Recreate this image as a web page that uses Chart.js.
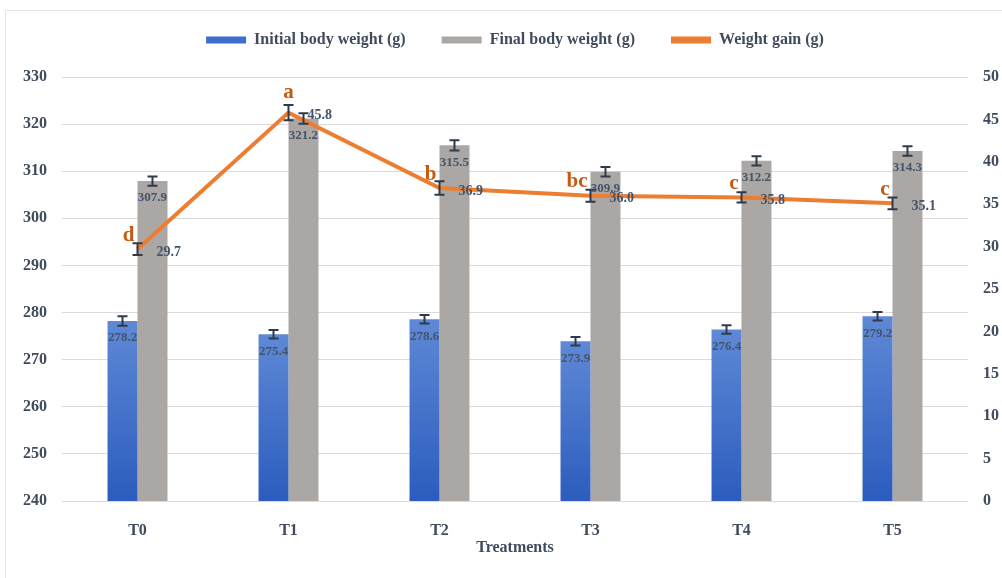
<!DOCTYPE html>
<html>
<head>
<meta charset="utf-8">
<script src="https://cdn.jsdelivr.net/npm/chart.js@4.4.0/dist/chart.umd.min.js"></script>
<style>
    html, body { margin: 0; padding: 0; background: #fff; }
    #wrap { position: relative; width: 1002px; height: 578px; overflow: hidden; }
    #marco { position: absolute; left: 5px; top: 10px; width: 1010px; height: 600px; border: 1px solid #e4e4e4; }
    canvas { position: absolute; left: 0; top: 0; }
</style>
</head>
<body>
<div id="wrap">
    <div id="marco"></div>
    <canvas id="myChart" width="1002" height="578"></canvas>
</div>
<script>
const tratamientos = ['T0', 'T1', 'T2', 'T3', 'T4', 'T5'];
const pesoInicial = [278.2, 275.4, 278.6, 273.9, 276.4, 279.2];
const pesoFinal = [307.9, 321.2, 315.5, 309.9, 312.2, 314.3];
const ganancia = [29.7, 45.8, 36.9, 36.0, 35.8, 35.1];
const errInicial = [1.0, 0.9, 0.9, 0.9, 0.9, 0.9];
const errFinal = [1.0, 1.1, 1.1, 1.0, 1.0, 1.0];
const errGanancia = [0.7, 0.9, 0.8, 0.7, 0.6, 0.7];
const letras = ['d', 'a', 'b', 'bc', 'c', 'c'];
const ticksIzq = [240, 250, 260, 270, 280, 290, 300, 310, 320, 330];
const ticksDer = [0, 5, 10, 15, 20, 25, 30, 35, 40, 45, 50];

const fuente = "'Liberation Serif', 'Times New Roman', serif";
const colorTexto = '#404b5c';
const colorEtiqueta = '#44546a';
const colorLetra = '#c55a11';
const colores = ['#3f6fcc', '#aba7a5', '#ed7d31'];

const degradado = (c) => {
    const chart = c.chart;
    const area = chart.chartArea;
    if (!area || c.type !== 'data') return colores[0];
    const arriba = chart.scales.y.getPixelForValue(c.raw);
    const g = chart.ctx.createLinearGradient(0, arriba, 0, area.bottom);
    g.addColorStop(0, '#5f89d6');
    g.addColorStop(1, '#2b5cbe');
    return g;
};

// espacio debajo de la leyenda y la leyenda centrada sobre el area del grafico
const ajusteLeyenda = {
    id: 'ajusteLeyenda',
    beforeInit(chart) {
        const leyenda = chart.legend;
        const fitOriginal = leyenda.fit;
        leyenda.fit = function () {
            fitOriginal.bind(leyenda)();
            this.height += 19;
        };
        const drawOriginal = leyenda.draw;
        leyenda.draw = function () {
            const ctx = leyenda.ctx;
            ctx.save();
            ctx.translate(14, 0);
            drawOriginal.apply(leyenda, arguments);
            ctx.restore();
        };
    }
};

// barras de error y etiquetas
const barrasError = {
    id: 'barrasError',
    afterDatasetsDraw(chart) {
        const ctx = chart.ctx;
        const errores = [errInicial, errFinal, errGanancia];
        ctx.save();
        ctx.strokeStyle = '#2f3a4a';
        ctx.lineWidth = 2;
        chart.data.datasets.forEach((ds, i) => {
            const meta = chart.getDatasetMeta(i);
            const escala = chart.scales[meta.yAxisID];
            meta.data.forEach((el, j) => {
                const v = ds.data[j];
                const e = errores[i][j];
                const y1 = escala.getPixelForValue(v + e);
                const y2 = escala.getPixelForValue(v - e);
                const x = el.x;
                ctx.beginPath();
                ctx.moveTo(x, y1); ctx.lineTo(x, y2);
                ctx.moveTo(x - 5, y1); ctx.lineTo(x + 5, y1);
                ctx.moveTo(x - 5, y2); ctx.lineTo(x + 5, y2);
                ctx.stroke();
            });
        });
        ctx.textBaseline = 'middle';
        const maximo = Math.max(...ganancia);
        chart.data.datasets.forEach((ds, i) => {
            const meta = chart.getDatasetMeta(i);
            meta.data.forEach((el, j) => {
                const texto = ds.data[j].toFixed(1);
                if (i < 2) {
                    ctx.font = 'bold 13px ' + fuente;
                    ctx.fillStyle = colorEtiqueta;
                    ctx.textAlign = 'center';
                    ctx.fillText(texto, el.x, el.y + 17);
                } else {
                    ctx.font = 'bold 14px ' + fuente;
                    ctx.fillStyle = colorEtiqueta;
                    ctx.textAlign = 'left';
                    ctx.fillText(texto, el.x + 19, el.y + 3);
                    ctx.font = 'bold 21px ' + fuente;
                    ctx.fillStyle = colorLetra;
                    if (ds.data[j] === maximo) {
                        ctx.textAlign = 'center';
                        ctx.fillText(letras[j], el.x, el.y - 20);
                    } else {
                        ctx.textAlign = 'right';
                        ctx.fillText(letras[j], el.x - 3, el.y - 14);
                    }
                }
            });
        });
        ctx.restore();
    }
};

const canvas = document.getElementById('myChart');
const myChart = new Chart(canvas.getContext('2d'), {
    type: 'bar',
    data: {
        labels: tratamientos,
        datasets: [{
            label: 'Initial body weight (g)',
            data: pesoInicial,
            backgroundColor: degradado,
            barPercentage: 1,
            categoryPercentage: 0.397,
            yAxisID: 'y',
            order: 1
        }, {
            label: 'Final body weight (g)',
            data: pesoFinal,
            backgroundColor: colores[1],
            barPercentage: 1,
            categoryPercentage: 0.397,
            yAxisID: 'y',
            order: 1
        }, {
            type: 'line',
            label: 'Weight gain (g)',
            data: ganancia,
            borderColor: colores[2],
            backgroundColor: colores[2],
            borderWidth: 4,
            pointRadius: 0,
            tension: 0,
            yAxisID: 'y1',
            order: 0
        }]
    },
    options: {
        responsive: false,
        animation: false,
        layout: { padding: { left: 0, right: 0, top: -4, bottom: 0 } },
        plugins: {
            tooltip: { enabled: false },
            legend: {
                position: 'top',
                labels: {
                    boxWidth: 40,
                    boxHeight: 7,
                    padding: 36,
                    color: colorTexto,
                    font: { family: fuente, size: 16, weight: 'bold' },
                    generateLabels: (chart) => chart.data.datasets.map((ds, i) => ({
                        text: ds.label,
                        fillStyle: colores[i],
                        strokeStyle: colores[i],
                        lineWidth: 0,
                        fontColor: colorTexto,
                        datasetIndex: i
                    }))
                }
            }
        },
        scales: {
            x: {
                grid: { display: false },
                border: { display: false },
                ticks: { color: colorTexto, padding: 12, font: { family: fuente, size: 16, weight: 'bold' } },
                title: {
                    display: true,
                    text: 'Treatments',
                    color: colorTexto,
                    padding: { top: 0, bottom: 21 },
                    font: { family: fuente, size: 16, weight: 'bold' }
                },
                afterFit: (s) => { s.height = 77; }
            },
            y: {
                position: 'left',
                min: ticksIzq[0],
                max: ticksIzq[ticksIzq.length - 1],
                afterBuildTicks: (s) => { s.ticks = ticksIzq.map(v => ({ value: v })); },
                grid: { color: '#dadada', lineWidth: 1, drawTicks: false },
                border: { display: false },
                ticks: { color: colorTexto, padding: 15, font: { family: fuente, size: 16, weight: 'bold' } },
                afterFit: (s) => { s.width = 62; }
            },
            y1: {
                position: 'right',
                min: ticksDer[0],
                max: ticksDer[ticksDer.length - 1],
                afterBuildTicks: (s) => { s.ticks = ticksDer.map(v => ({ value: v })); },
                grid: { display: false, drawTicks: false },
                border: { display: false },
                ticks: { color: colorTexto, padding: 15, font: { family: fuente, size: 16, weight: 'bold' } },
                afterFit: (s) => { s.width = 34; }
            }
        }
    },
    plugins: [ajusteLeyenda, barrasError]
});
</script>
</body>
</html>
